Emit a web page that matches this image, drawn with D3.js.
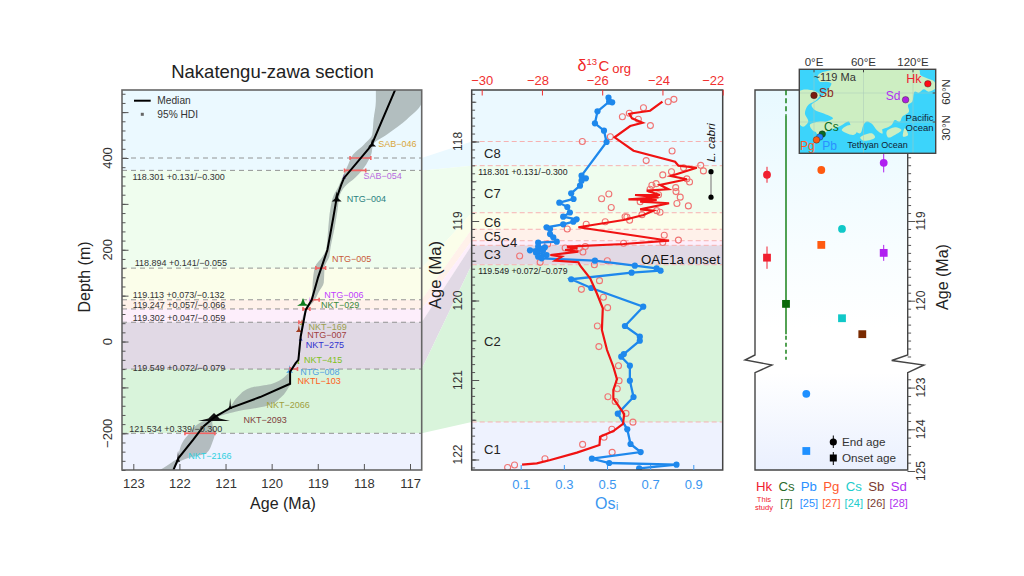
<!DOCTYPE html>
<html><head><meta charset="utf-8">
<style>html,body{margin:0;padding:0;background:#fff}text{font-family:"Liberation Sans",Arial,sans-serif}</style>
<script src="https://cdn.jsdelivr.net/npm/d3@7/dist/d3.min.js"></script>
</head><body><svg id="c" width="1024" height="576"></svg>
<script>
// ---------- shared chemostratigraphic bands ----------
const bandColors=['#ebf9ff','#effdee','#fbfeea','#fff1ea','#fdeefb','#e1d9e5','#d9f4db','#eef2fe'];
const bandAges=[118.304,118.896,119.104,119.248,119.306,119.55,121.528];
const bandDepths=[373,160,91,71,42,-60,-200];
const bandLabels=['118.301 +0.131/−0.300','118.894 +0.141/−0.055','119.113 +0.073/−0.132','119.247 +0.057/−0.066','119.302 +0.047/−0.059','119.549 +0.072/−0.079','121.534 +0.339/−0.300'];
const bandLabelAges=[123.02,122.97,123.01,123.01,123.01,123.01,123.09];
const bandLabelDepths=[360,172,102,81,51,-57,-190];

// ---------- panel 1: age-depth model ----------
const medianAges=[117.32,117.83,117.90,118.43,118.49,118.59,118.66,118.79,118.84,118.99,119.13,119.26,119.37,119.42,119.48,119.60,119.60,120.25,120.90,121.23,121.48,121.70,122.02,122.13];
const medianDepths=[549,429,420,356.5,342,313,272,200,185,141,91,69,11,-40,-47,-66,-92,-121,-145,-164,-185,-214,-254,-280];
const hdiDepths=[549,524,484,451,429,408,386,357,338,320,287,250,200,185,163,128,106,91,69,10,-40,-66,-92,-101,-120,-140,-153,-164,-177,-199,-221,-243,-254,-263,-280];
const hdiOlder=[117.74,117.74,117.79,117.82,118.00,118.23,118.34,118.47,118.55,118.65,118.73,118.77,118.82,118.90,119.06,119.11,119.12,119.16,119.28,119.39,119.44,119.61,119.99,120.47,120.73,120.88,120.99,121.25,121.55,121.77,121.94,122.01,122.03,122.16,122.42];
const hdiYounger=[116.74,116.74,117.07,117.50,117.80,117.84,117.95,118.19,118.41,118.52,118.57,118.63,118.73,118.75,118.85,118.87,118.99,119.06,119.23,119.35,119.41,119.58,119.58,119.64,119.78,120.10,120.79,121.16,121.29,121.23,121.29,121.41,121.81,122.01,122.13];
const sampleNames=['SAB−046','SAB−054','NTG−004','NTG−005','NTG−006','NKT−029','NKT−169','NTG−007','NKT−275','NKT−415','NTG−008','NKTL−103','NKT−2066','NKT−2093','NKT−2166'];
const sampleAges=[117.82,118.43,118.59,118.79,119.17,119.32,119.35,119.41,119.37,119.42,119.61,119.60,120.90,121.25,122.03];
const sampleDepths=[425,355,305,196,89,78,36,21,2,-49,-68,-90,-147,-173,-262];
const sampleSpreads=[.087,.043,.108,.022,.022,.130,.043,.065,.043,.022,.076,.022,.043,.347,.043];
const samplePeaks=[17,11,22,9,9,17,13,15,13,15,17,15,24,17,24];
const sampleFill=['#111','#5a2a9a','#111','#c85a3a','#c040ff','#0a7a1a','#9aa040','#a03c20','#2030c0','#80c020','#4aa0e0','#ff5020','#111','#111','#111'];
const sampleText=['#d9a63a','#b86ae0','#2a8080','#c85a3a','#c040ff','#3a8a3a','#9aa050','#a04040','#3030d0','#80c020','#50a0e0','#ff6020','#a0a040','#804040','#30d0e0'];
const sampleLabelAges=[117.69,118.01,118.37,118.69,118.86,118.93,119.20,119.23,119.26,119.30,119.38,119.44,120.11,120.61,121.81];
const sampleLabelDepths=[430,362,310,180,101,80,33,14,-7,-41,-65,-86,-139,-171,-249];
const hdiBarDepths=[400,373,160,91,71,42,-60,-200];
const hdiBarOlder=[118.30,118.42,119.04,119.13,119.32,119.41,119.60,121.88];
const hdiBarYounger=[117.85,117.96,118.83,118.97,119.17,119.33,119.44,121.23];
const ageTicks1=[123,122,121,120,119,118,117];
const depthTicks=[-200,0,200,400];

// ---------- panel 2: proxies ----------
const osiValues=[.507,.524,.510,.456,.444,.486,.498,.382,.402,.382,.375,.334,.345,.279,.316,.328,.297,.359,.344,.297,.220,.236,.236,.251,.267,.181,.181,.212,.143,.203,.171,.220,.181,.197,.444,.629,.730,.748,.614,.334,.427,.668,.583,.652,.652,.578,.566,.606,.606,.623,.550,.594,.609,.656,.430,.510,.822,.649];
const osiAges=[117.449,117.507,117.499,117.620,117.771,117.864,118.006,118.430,118.463,118.493,118.556,118.652,118.723,118.770,118.824,118.893,118.946,118.979,119.009,119.042,119.079,119.101,119.164,119.205,119.260,119.273,119.323,119.331,119.369,119.374,119.399,119.428,119.449,119.469,119.499,119.562,119.595,119.625,119.650,119.733,119.843,120.078,120.321,120.455,120.506,120.673,120.707,120.820,121.009,121.214,121.424,121.620,121.805,121.906,121.990,122.044,122.065,122.111];
const carbonSmooth=[-24.00,-24.41,-25.00,-25.10,-25.01,-24.66,-25.07,-25.59,-24.96,-23.58,-23.47,-22.86,-23.72,-23.19,-24.08,-23.80,-24.52,-24.08,-24.91,-24.13,-25.13,-24.19,-24.74,-23.78,-24.74,-24.30,-24.63,-25.29,-26.79,-23.78,-25.29,-27.17,-26.82,-27.23,-26.79,-27.72,-27.34,-27.56,-26.79,-26.73,-26.40,-26.18,-25.98,-26.01,-25.84,-25.63,-25.51,-25.63,-25.63,-25.27,-25.31,-25.63,-26.07,-26.09,-26.84,-27.72,-28.17,-28.66];
const carbonSmoothAges=[117.499,117.613,117.645,117.654,117.708,117.764,117.805,117.947,118.116,118.254,118.304,118.330,118.434,118.475,118.547,118.601,118.619,118.673,118.673,118.702,118.727,118.736,118.757,118.777,118.853,118.870,118.925,118.987,119.079,119.248,119.289,119.323,119.343,119.365,119.386,119.428,119.449,119.499,119.519,119.562,119.721,119.909,120.098,120.371,120.623,120.833,120.991,121.126,121.230,121.428,121.553,121.642,121.713,121.818,121.914,122.006,122.048,122.065];
const carbonRaw=[-23.62,-23.81,-24.63,-25.10,-25.33,-24.80,-24.40,-25.73,-26.66,-23.68,-24.54,-22.73,-22.64,-23.30,-23.70,-23.99,-23.19,-23.10,-24.21,-24.35,-24.41,-23.56,-23.55,-23.41,-24.13,-25.78,-26.02,-25.70,-23.52,-23.14,-24.19,-24.08,-24.68,-25.18,-24.74,-25.24,-25.09,-25.90,-26.53,-27.16,-23.94,-23.47,-23.99,-25.29,-26.56,-27.81,-27.23,-26.76,-26.64,-28.74,-28.06,-26.26,-25.83,-26.09,-26.69,-25.96,-25.82,-26.16,-26.11,-25.46,-25.44,-25.50,-25.81,-25.57,-25.21,-24.98,-25.68,-25.94,-26.65,-25.67,-27.90,-28.91,-29.14];
const carbonRawAges=[117.47,117.50,117.575,117.645,117.688,117.72,117.80,117.94,118.00,118.12,118.24,118.30,118.37,118.33,118.38,118.42,118.47,118.51,118.53,118.55,118.60,118.58,118.63,118.70,118.67,118.66,118.72,118.83,118.78,118.81,118.87,118.89,118.92,118.95,118.757,118.946,118.99,119.01,119.04,119.10,119.18,119.24,119.27,119.28,119.32,119.29,119.34,119.34,119.39,119.44,119.52,119.55,119.50,119.75,119.86,119.96,120.09,120.32,120.58,120.82,121.01,121.11,121.21,121.27,121.42,121.53,121.62,121.72,121.81,121.91,121.99,122.07,122.10];
const carbonTicks=[-30,-28,-26,-24,-22];
const osiTicks=[.1,.3,.5,.7,.9];
const ageTicks2=[118,119,120,121,122];
const cycleNames=['C8','C7','C6','C5','C4','C3','C2','C1'];
const cycleAges=[118.15,118.65,119.02,119.19,119.27,119.42,120.51,121.87];
const cabriAges=[118.38,118.70];

// ---------- panel 3: compilation ----------
const siteNames=['Hk','Cs','Pb','Pg','Cs','Sb','Sd'];
const siteKeys=['Hk','Cs7','Pb','Pg','Cs24','Sb','Sd'];
const siteRefs=['','[7]','[25]','[27]','[24]','[26]','[28]'];
const siteColors=['#f02030','#0a6a0a','#1e90ff','#ff5a10','#10c8c8','#7a2a00','#b020f0'];
const siteTextColors=['#f02030','#2a6a2a','#2a90ff','#ff5a30','#20cccc','#7a3a30','#b030f0'];
const endAges=[118.42,null,123.15,118.36,119.10,null,118.27];
const onsetAges=[119.46,120.04,124.52,119.30,120.22,120.42,119.40];
const endErrors=[.1,0,0,0,0,0,.12];
const onsetErrors=[.14,0,0,0,0,0,.1];
const ageTicks3Upper=[119,120];
const ageTicks3Lower=[123,124,125];

// ---------- inset palaeogeographic map (lon, lat) ----------
const landMain=[[29,84.5],[127,84.5],[129,78.6],[137,75.2],[146,71.7],[147,64.8],[139,61.4],[133,63.8],[127,60.3],[122,61.4],[119,51],[114,47.6],[115,40.7],[107,35.5],[104,30.4],[98,32.1],[94,26.9],[86,23.5],[78,21.7],[72,26.9],[64,30.4],[60,26.9],[56,18.3],[46,23.5],[42,30.4],[34,26.9],[25.5,23.5],[15,20],[7,14.8],[1,23.5],[5,28.6],[15,30.4],[23,33.8],[11,39],[1,42.4],[-3,47.6],[5,52.8],[15,61.4],[21,70],[15,71.7],[7,71.7],[5,78.6]];
const landIslands=[
 [[-18,61.4],[-3,63],[7,58],[3,52.8],[-7,47.6],[-11,39],[-7,30.4],[-13,25],[-18,28.6]],
 [[-5,27],[9,30.4],[17,28.6],[11,23.5],[1,20]],
 [[33.6,21.7],[43.7,27],[51.8,20],[47.7,16.6]],
 [[68,33.8],[80,27],[83,18],[76,21.7]],
 [[88,20],[98,24.5],[106,21.7],[98,16.6],[90,14]],
 [[56,14],[70,18.3],[74,14],[60,10.7]],
 [[110,23.5],[114,16.6],[108,14.8]]
];
const mapLonTicks=[0,60,120];
const mapLatTicks=[30,60];
const mapSites=[['Sb',0,57.5,'#7a1a10'],['Sd',111,53,'#b020e0'],['Hk',138,69.5,'#ff0a14'],['Cs',10,17.5,'#0a6a20'],['Pb',7,14.5,'#1e80ff'],['Pg',3,11.5,'#ff5a10']];
const mapTexts=[['~119 Ma',25,76,'#333',11],['Hk',121,74.5,'#f02030',12.5],['Sb',15,60.5,'#8a2a20',12],['Sd',96,57,'#b030f0',12],['Pacific',128,34,'#123',9.5],['Ocean',128,24,'#123',9.5],['Tethyan Ocean',77,6.5,'#123',9],['Cs',21,25,'#0a6a20',12],['Pg',-8,5,'#ff5a20',12],['Pb',19,5,'#2a90ff',12]];

// ---------- drawing ----------
const svg=d3.select('#c');
const defs=svg.append('defs');
const frame1={l:122,r:421.7,t:90,b:470}, frame2={l:471.7,r:722.7,t:90,b:470};
const x1=d3.scaleLinear([123,117],[133.3,410]);
const y1=d3.scaleLinear([400,-200],[158,433.3]);
const cx=d3.scaleLinear([-30,-22],[481.7,722.7]);
const ox=d3.scaleLinear([.1,.9],[520.7,693.3]);
const ay=d3.scaleLinear([118,122],[141.5,459.5]);
const ay3=d3.scaleLinear([119,120],[221,300.7]);
const ay3low=d3.scaleLinear([123,125],[387.6,471]);
const inkTick='#555';

defs.append('clipPath').attr('id','p1').append('rect').attr('x',frame1.l).attr('y',frame1.t).attr('width',frame1.r-frame1.l).attr('height',frame1.b-frame1.t);
defs.append('clipPath').attr('id','p2').append('rect').attr('x',frame2.l).attr('y',frame2.t).attr('width',frame2.r-frame2.l).attr('height',frame2.b-frame2.t);

// connector ribbons between panels 1 and 2
const conn=svg.append('g');
const ribbons=[[400,bandDepths[0],118,bandAges[0],0]];
for(let i=0;i<6;i++) ribbons.push([bandDepths[i],bandDepths[i+1],bandAges[i],bandAges[i+1],i+1]);
conn.selectAll('path').data(ribbons).join('path')
 .attr('d',d=>d3.line()([[frame1.r,y1(d[0])],[frame2.l,ay(d[2])],[frame2.l,ay(d[3])],[frame1.r,y1(d[1])]])+'Z')
 .attr('fill',d=>bandColors[d[4]]);

// panel 1 bands
const g1=svg.append('g');
const d1edges=[y1.invert(frame1.t),...bandDepths,y1.invert(frame1.b)];
g1.selectAll('rect.band').data(bandColors).join('rect').attr('class','band')
 .attr('x',frame1.l).attr('width',frame1.r-frame1.l)
 .attr('y',(c,i)=>y1(d1edges[i])).attr('height',(c,i)=>y1(d1edges[i+1])-y1(d1edges[i])).attr('fill',c=>c);
g1.selectAll('line.dash').data([400,...bandDepths]).join('line').attr('class','dash')
 .attr('x1',frame1.l).attr('x2',frame1.r).attr('y1',d=>y1(d)).attr('y2',d=>y1(d))
 .attr('stroke','#888').attr('stroke-width',.9).attr('stroke-dasharray','5 4');
const plot1=g1.append('g').attr('clip-path','url(#p1)');
const hdiRows=hdiDepths.map((d,i)=>({d,o:hdiOlder[i],y:hdiYounger[i]}));
plot1.append('path').datum(hdiRows)
 .attr('d',d3.area().y(r=>y1(r.d)).x0(r=>x1(r.o)).x1(r=>x1(r.y)).curve(d3.curveMonotoneY))
 .attr('fill','#96a2a0').attr('opacity',.68);
plot1.selectAll('path.s').data(sampleNames).join('path').attr('class','s')
 .attr('d',(n,i)=>{const a=sampleAges[i],d=sampleDepths[i],w=sampleSpreads[i],h=samplePeaks[i];
   return d3.line()([[x1(a-w),y1(d)],[x1(a-w*.35),y1(d+h*.3)],[x1(a),y1(d+h)],[x1(a+w*.35),y1(d+h*.3)],[x1(a+w),y1(d)]])+'Z';})
 .attr('fill',(n,i)=>sampleFill[i]);
const bars=plot1.selectAll('g.b').data(hdiBarDepths).join('g').attr('class','b').attr('stroke','#f06464').attr('stroke-width',1.6);
bars.append('line').attr('x1',(d,i)=>x1(hdiBarOlder[i])).attr('x2',(d,i)=>x1(hdiBarYounger[i])).attr('y1',d=>y1(d)).attr('y2',d=>y1(d));
bars.append('line').attr('x1',(d,i)=>x1(hdiBarOlder[i])).attr('x2',(d,i)=>x1(hdiBarOlder[i])).attr('y1',d=>y1(d)-2).attr('y2',d=>y1(d)+2);
bars.append('line').attr('x1',(d,i)=>x1(hdiBarYounger[i])).attr('x2',(d,i)=>x1(hdiBarYounger[i])).attr('y1',d=>y1(d)-2).attr('y2',d=>y1(d)+2);
plot1.append('path').datum(medianAges.map((a,i)=>[a,medianDepths[i]]))
 .attr('d',d3.line().x(d=>x1(d[0])).y(d=>y1(d[1]))).attr('fill','none').attr('stroke','#000').attr('stroke-width',2);
g1.selectAll('text.s').data(sampleNames).join('text').attr('class','s')
 .attr('x',(n,i)=>x1(sampleLabelAges[i])).attr('y',(n,i)=>y1(sampleLabelDepths[i])).attr('dy','.35em')
 .attr('font-size',9).attr('fill',(n,i)=>sampleText[i]).text(n=>n);
g1.selectAll('text.bl').data(bandLabels).join('text').attr('class','bl')
 .attr('x',(n,i)=>x1(bandLabelAges[i])).attr('y',(n,i)=>y1(bandLabelDepths[i])).attr('dy','.35em')
 .attr('font-size',9).attr('fill','#333').text(n=>n);
// legend
g1.append('line').attr('x1',134).attr('x2',150.7).attr('y1',100.7).attr('y2',100.7).attr('stroke','#000').attr('stroke-width',2);
g1.append('rect').attr('x',140.8).attr('y',112.8).attr('width',3).attr('height',3).attr('fill','#666');
g1.append('text').attr('x',157.3).attr('y',104.3).attr('font-size',10.2).attr('fill','#333').text('Median');
g1.append('text').attr('x',157.3).attr('y',118).attr('font-size',10.2).attr('fill','#333').text('95% HDI');
g1.append('rect').attr('x',frame1.l).attr('y',frame1.t).attr('width',frame1.r-frame1.l).attr('height',frame1.b-frame1.t).attr('fill','none').attr('stroke','#666').attr('stroke-width',1.6);

function cleanAxis(g,color){g.select('.domain').remove();g.selectAll('line').attr('stroke',color);g.selectAll('text').attr('fill',color);return g;}
const axB=d3.axisBottom(x1).tickValues(ageTicks1).tickFormat(d3.format('d')).tickSizeInner(-6).tickPadding(9);
const gx1=g1.append('g').attr('transform',`translate(0,${frame1.b})`).call(axB);cleanAxis(gx1,inkTick);
gx1.selectAll('text').attr('font-size',13).attr('fill','#333');
const gy1min=g1.append('g').attr('transform',`translate(${frame1.l},0)`).call(d3.axisLeft(y1).tickValues(d3.range(-280,550,20)).tickFormat('').tickSizeInner(-3.5));cleanAxis(gy1min,inkTick);
const gy1maj=g1.append('g').attr('transform',`translate(${frame1.l},0)`).call(d3.axisLeft(y1).tickValues(d3.range(-200,501,100)).tickFormat('').tickSizeInner(-6.5));cleanAxis(gy1maj,inkTick);
g1.selectAll('text.dt').data(depthTicks).join('text').attr('class','dt').attr('text-anchor','middle').attr('font-size',13).attr('fill','#333')
 .attr('transform',d=>`translate(112,${y1(d)}) rotate(-90)`).text(d3.format('d'));
svg.append('text').attr('x',272.5).attr('y',78).attr('text-anchor','middle').attr('font-size',18.5).attr('fill','#222').text('Nakatengu-zawa section');
svg.append('text').attr('x',283).attr('y',509).attr('text-anchor','middle').attr('font-size',16).attr('fill','#222').text('Age (Ma)');
svg.append('text').attr('transform','translate(90,277) rotate(-90)').attr('text-anchor','middle').attr('font-size',16).attr('fill','#222').text('Depth (m)');

// panel 2
const g2=svg.append('g');
const a2edges=[ay.invert(frame2.t),...bandAges,ay.invert(frame2.b)];
g2.selectAll('rect.band').data(bandColors).join('rect').attr('class','band')
 .attr('x',frame2.l).attr('width',frame2.r-frame2.l)
 .attr('y',(c,i)=>ay(a2edges[i])).attr('height',(c,i)=>ay(a2edges[i+1])-ay(a2edges[i])).attr('fill',c=>c);
g2.selectAll('line.dash').data([118,...bandAges]).join('line').attr('class','dash')
 .attr('x1',frame2.l).attr('x2',frame2.r).attr('y1',d=>ay(d)).attr('y2',d=>ay(d))
 .attr('stroke','#f6b2b2').attr('stroke-width',1).attr('stroke-dasharray','5 3');
const plot2=g2.append('g').attr('clip-path','url(#p2)');
plot2.selectAll('circle.raw').data(carbonRaw).join('circle').attr('class','raw')
 .attr('cx',d=>cx(d)).attr('cy',(d,i)=>ay(carbonRawAges[i])).attr('r',3)
 .attr('fill','none').attr('stroke','#f07474').attr('stroke-width',1.1);
const osiPts=osiValues.map((v,i)=>[ox(v),ay(osiAges[i])]);
plot2.append('path').attr('d',d3.line()(osiPts)).attr('fill','none').attr('stroke','#1e88ec').attr('stroke-width',2.3);
plot2.selectAll('circle.os').data(osiPts).join('circle').attr('class','os').attr('cx',d=>d[0]).attr('cy',d=>d[1]).attr('r',3.1).attr('fill','#1e88ec');
plot2.append('path').attr('d',d3.line()(carbonSmooth.map((v,i)=>[cx(v),ay(carbonSmoothAges[i])]))).attr('fill','none').attr('stroke','#f01212').attr('stroke-width',2.2);
g2.selectAll('text.cyc').data(cycleNames).join('text').attr('class','cyc')
 .attr('x',(n,i)=>n==='C4'?500.5:484).attr('y',(n,i)=>ay(cycleAges[i])).attr('dy','.36em')
 .attr('font-size',13).attr('fill','#222').text(n=>n);
g2.append('text').attr('x',641).attr('y',263.5).attr('font-size',13.3).attr('fill','#111').text('OAE1a onset');
g2.append('text').attr('x',478.3).attr('y',ay(118.38)).attr('dy','.35em').attr('font-size',8.7).attr('fill','#222').text(bandLabels[0]);
g2.append('text').attr('x',478.3).attr('y',ay(119.63)).attr('dy','.35em').attr('font-size',8.7).attr('fill','#222').text(bandLabels[5]);
g2.append('line').attr('x1',711).attr('x2',711).attr('y1',ay(cabriAges[0])).attr('y2',ay(cabriAges[1])).attr('stroke','#888').attr('stroke-width',1.2);
g2.selectAll('circle.cab').data(cabriAges).join('circle').attr('class','cab').attr('cx',711).attr('cy',d=>ay(d)).attr('r',2.6).attr('fill','#000');
g2.append('text').attr('transform','translate(715,162) rotate(-90)').attr('font-size',11.8).attr('font-style','italic').attr('fill','#111').text('L. cabri');
g2.append('rect').attr('x',frame2.l).attr('y',frame2.t).attr('width',frame2.r-frame2.l).attr('height',frame2.b-frame2.t).attr('fill','none').attr('stroke','#444').attr('stroke-width',1.5);
// top axis
const topShift={'-30':0,'-28':-4.5,'-26':-5,'-24':-4,'-22':-10};
const gTop=g2.append('g').attr('transform',`translate(0,${frame2.t})`).call(d3.axisTop(cx).tickValues(carbonTicks).tickFormat(d3.format('d')).tickSizeInner(-5.5).tickPadding(5));cleanAxis(gTop,'#f03030');
gTop.selectAll('text').attr('font-size',13).attr('dx',d=>topShift[d]);
const gBot=g2.append('g').attr('transform',`translate(0,${frame2.b})`).call(d3.axisBottom(ox).tickValues(osiTicks).tickFormat(d3.format('.1f')).tickSizeInner(-5).tickPadding(10));cleanAxis(gBot,'#3a96f0');
gBot.selectAll('text').attr('font-size',13);
const gL=g2.append('g').attr('transform',`translate(${frame2.l},0)`);
[[d3.range(117.4,122.15,.1),-3.4],[d3.range(117.5,122.15,.5),-4.6],[ageTicks2,-7.5]].forEach(([vals,len])=>{
  const a=gL.append('g').call(d3.axisLeft(ay).tickValues(vals).tickFormat('').tickSizeInner(len));cleanAxis(a,inkTick);});
gL.selectAll('text.t').data(ageTicks2).join('text').attr('class','t').attr('text-anchor','middle').attr('font-size',12).attr('fill','#333')
 .attr('transform',d=>`translate(-9.5,${ay(d)-(d===122?5:0)}) rotate(-90)`).text(d3.format('d'));
// delta13C org title
const dt=svg.append('g').attr('fill','#f02828');
dt.append('text').attr('x',577.5).attr('y',70.5).attr('font-size',16).text('δ');
dt.append('text').attr('x',586.5).attr('y',64.5).attr('font-size',9.5).text('13');
dt.append('text').attr('x',598.5).attr('y',70.5).attr('font-size',15).text('C');
dt.append('text').attr('x',612.3).attr('y',72.5).attr('font-size',13).text('org');
const osT=svg.append('g').attr('fill','#3a96f0');
osT.append('text').attr('x',595).attr('y',509).attr('font-size',16).text('Os');
osT.append('text').attr('x',616).attr('y',510).attr('font-size',10).text('i');
svg.append('text').attr('transform','translate(441,275) rotate(-90)').attr('text-anchor','middle').attr('font-size',16.5).attr('fill','#222').text('Age (Ma)');

// panel 3
const g3=svg.append('g');
const gradU=defs.append('linearGradient').attr('id','gu').attr('x1',0).attr('x2',0).attr('y1',0).attr('y2',1);
gradU.append('stop').attr('offset',0).attr('stop-color','#e8f9ff');gradU.append('stop').attr('offset',.9).attr('stop-color','#ffffff');
const gradL=defs.append('linearGradient').attr('id','gl').attr('x1',0).attr('x2',0).attr('y1',0).attr('y2',1);
gradL.append('stop').attr('offset',0).attr('stop-color','#ffffff');gradL.append('stop').attr('offset',1).attr('stop-color','#eaf0fe');
g3.append('rect').attr('x',755).attr('y',90).attr('width',152.7).attr('height',265).attr('fill','url(#gu)');
g3.append('rect').attr('x',755).attr('y',372.7).attr('width',152.7).attr('height',97.3).attr('fill','url(#gl)');
const outline=g3.append('g').attr('fill','none').attr('stroke','#444').attr('stroke-width',1.4);
outline.append('path').attr('d','M907.7,90H755V355L745,360L772,365L755,372.7V470H907.7V372.7L924,365L891.7,360.5L907.7,355V90');
const colX=d3.scaleOrdinal(siteKeys,[767,786,806.3,821.3,842,862.3,883.7]);
const ageToY=a=>a>122?ay3low(a):ay3(a);
// green range of ref [7]
const gx=colX('Cs7');
g3.append('line').attr('x1',gx).attr('x2',gx).attr('y1',ageToY(117.36)).attr('y2',ageToY(117.68)).attr('stroke','#0a7a0a').attr('stroke-width',1.4).attr('stroke-dasharray','5 3');
g3.append('line').attr('x1',gx).attr('x2',gx).attr('y1',ageToY(117.68)).attr('y2',ageToY(120.42)).attr('stroke','#0a7a0a').attr('stroke-width',1.4);
g3.append('line').attr('x1',gx).attr('x2',gx).attr('y1',ageToY(120.44)).attr('y2',ageToY(120.74)).attr('stroke','#0a7a0a').attr('stroke-width',1.4).attr('stroke-dasharray','4 3');
siteKeys.forEach((k,i)=>{
  const x=colX(k),col=siteColors[i];
  [[endAges[i],endErrors[i],'c'],[onsetAges[i],onsetErrors[i],'s']].forEach(([a,e,s])=>{
    if(a==null)return;
    const y=ageToY(a);
    if(e>0) g3.append('line').attr('x1',x).attr('x2',x).attr('y1',ageToY(a-e)).attr('y2',ageToY(a+e)).attr('stroke',col).attr('stroke-width',1);
    if(s==='c') g3.append('circle').attr('cx',x).attr('cy',y).attr('r',3.9).attr('fill',col);
    else g3.append('rect').attr('x',x-3.9).attr('y',y-3.9).attr('width',7.8).attr('height',7.8).attr('fill',col);
  });
});
g3.append('line').attr('x1',833.3).attr('x2',833.3).attr('y1',435.5).attr('y2',448).attr('stroke','#000').attr('stroke-width',1);
g3.append('circle').attr('cx',833.3).attr('cy',442).attr('r',3.6).attr('fill','#000');
g3.append('line').attr('x1',833.3).attr('x2',833.3).attr('y1',452).attr('y2',465).attr('stroke','#000').attr('stroke-width',1);
g3.append('rect').attr('x',829.8).attr('y',454.5).attr('width',7).attr('height',7).attr('fill','#000');
g3.append('text').attr('x',842).attr('y',446).attr('font-size',11.7).attr('fill','#333').text('End age');
g3.append('text').attr('x',842).attr('y',462).attr('font-size',11.7).attr('fill','#333').text('Onset age');
const axR=g3.append('g').attr('transform','translate(907.7,0)');
const ticksU=d3.range(117.8,120.7,.1), ticksL=d3.range(122.8,125.01,.2);
[[ay3,ticksU,-3.4],[ay3,ageTicks3Upper,-7.5],[ay3low,ticksL,-3.4],[ay3low,ageTicks3Lower,-7.5]].forEach(([s,v,l])=>{
 const a=axR.append('g').call(d3.axisLeft(s).tickValues(v).tickFormat('').tickSizeInner(l));cleanAxis(a,inkTick);});
axR.selectAll('text.t').data([...ageTicks3Upper,...ageTicks3Lower]).join('text').attr('class','t').attr('text-anchor','middle').attr('font-size',12).attr('fill','#333')
 .attr('transform',d=>`translate(17.5,${ageToY(d)}) rotate(-90)`).text(d3.format('d'));
svg.append('text').attr('transform','translate(948,277) rotate(-90)').attr('text-anchor','middle').attr('font-size',16).attr('fill','#222').text('Age (Ma)');
const labX=d3.scalePoint(siteKeys,[764,898.7]);
g3.selectAll('text.sn').data(siteNames).join('text').attr('class','sn').attr('x',(n,i)=>labX(siteKeys[i])).attr('y',490.5).attr('text-anchor','middle').attr('font-size',13.2).attr('fill',(n,i)=>siteTextColors[i]).text(n=>n);
g3.selectAll('text.sr').data(siteRefs).join('text').attr('class','sr').attr('x',(n,i)=>labX(siteKeys[i])).attr('y',506.5).attr('text-anchor','middle').attr('font-size',11).attr('fill',(n,i)=>siteTextColors[i]).text(n=>n);
g3.append('text').attr('x',764).attr('y',502).attr('text-anchor','middle').attr('font-size',7.6).attr('fill','#f02030').text('This');
g3.append('text').attr('x',764).attr('y',510).attr('text-anchor','middle').attr('font-size',7.6).attr('fill','#f02030').text('study');

// inset map
const mx=d3.scaleLinear([0,120],[814,913]), my=d3.scaleLinear([30,60],[122,93]);
const mapBox={x:799.3,y:69.3,w:136.4,h:84};
defs.append('clipPath').attr('id','mp').append('rect').attr('x',mapBox.x).attr('y',mapBox.y).attr('width',mapBox.w).attr('height',mapBox.h);
const gm=svg.append('g');
gm.append('rect').attr('x',mapBox.x).attr('y',mapBox.y).attr('width',mapBox.w).attr('height',mapBox.h).attr('fill','#3cd4fb');
const mc=gm.append('g').attr('clip-path','url(#mp)');
const landLine=d3.line().x(d=>mx(d[0])).y(d=>my(d[1])).curve(d3.curveCatmullRomClosed.alpha(.5));
mc.selectAll('path.l').data([landMain,...landIslands]).join('path').attr('class','l').attr('d',landLine).attr('fill','#cdeec2');
mc.selectAll('line.g1').data(mapLonTicks).join('line').attr('class','g1').attr('x1',d=>mx(d)).attr('x2',d=>mx(d)).attr('y1',mapBox.y).attr('y2',mapBox.y+mapBox.h).attr('stroke','#a8c8b8').attr('stroke-width',.5);
mc.selectAll('line.g2').data(mapLatTicks).join('line').attr('class','g2').attr('y1',d=>my(d)).attr('y2',d=>my(d)).attr('x1',mapBox.x).attr('x2',mapBox.x+mapBox.w).attr('stroke','#a8c8b8').attr('stroke-width',.5);
mc.selectAll('circle.ms').data(mapSites).join('circle').attr('class','ms').attr('cx',d=>mx(d[1])).attr('cy',d=>my(d[2])).attr('r',3.3).attr('fill',d=>d[3]).attr('stroke','#222').attr('stroke-width',.4);
gm.selectAll('text.mt').data(mapTexts).join('text').attr('class','mt').attr('x',d=>mx(d[1])).attr('y',d=>my(d[2])).attr('dy','.35em').attr('text-anchor','middle').attr('fill',d=>d[3]).attr('font-size',d=>d[4]).text(d=>d[0]);
gm.append('rect').attr('x',mapBox.x).attr('y',mapBox.y).attr('width',mapBox.w).attr('height',mapBox.h).attr('fill','none').attr('stroke','#444').attr('stroke-width',1.4);
gm.selectAll('text.lon').data(mapLonTicks).join('text').attr('class','lon').attr('x',d=>mx(d)).attr('y',65.5).attr('text-anchor','middle').attr('font-size',11.5).attr('fill','#333').text(d=>d+'°E');
gm.selectAll('text.lat').data(mapLatTicks).join('text').attr('class','lat').attr('text-anchor','middle').attr('font-size',11.5).attr('fill','#333')
 .attr('transform',d=>`translate(950,${d===60?92:128}) rotate(-90)`).text(d=>d+'°N');
gm.selectAll('line.tk').data(mapLonTicks).join('line').attr('class','tk').attr('x1',d=>mx(d)).attr('x2',d=>mx(d)).attr('y1',mapBox.y).attr('y2',mapBox.y+3).attr('stroke','#444');
gm.selectAll('line.tk2').data(mapLatTicks).join('line').attr('class','tk2').attr('y1',d=>my(d)).attr('y2',d=>my(d)).attr('x1',mapBox.x+mapBox.w-3).attr('x2',mapBox.x+mapBox.w).attr('stroke','#444');
</script></body></html>
